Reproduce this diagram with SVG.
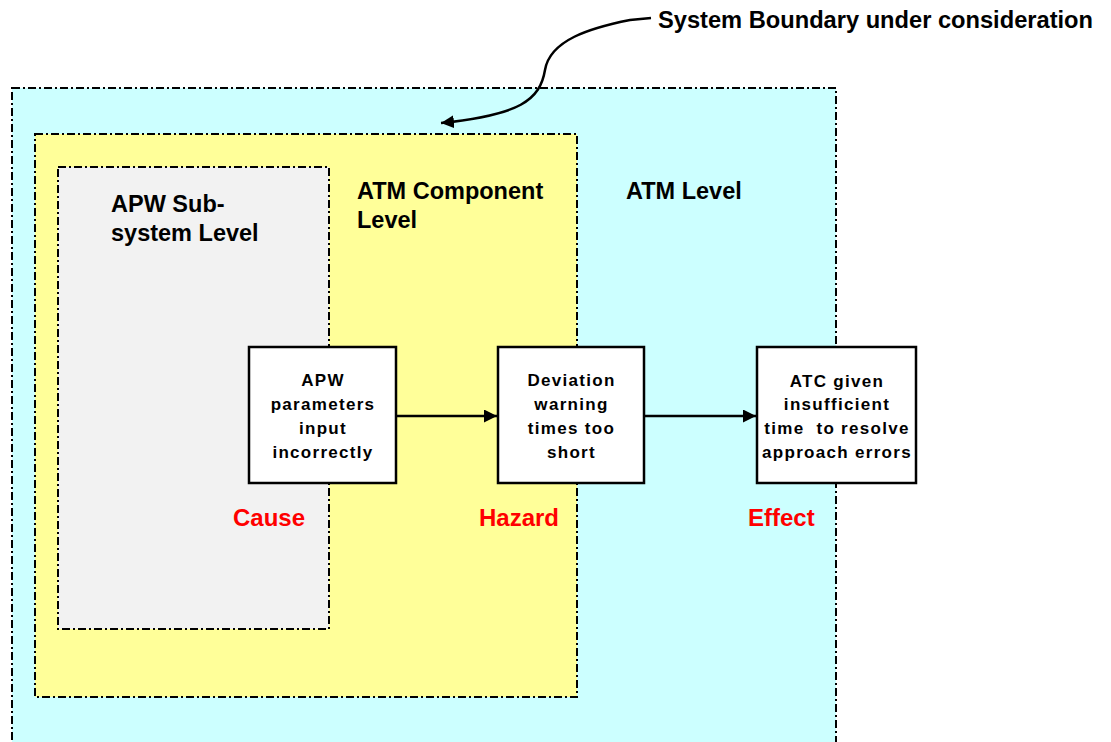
<svg xmlns="http://www.w3.org/2000/svg" width="1111" height="742" viewBox="0 0 1111 742">
<style>
.bound{stroke:#000;stroke-width:2;stroke-dasharray:8,3,2,3}
.box{fill:#fff;stroke:#000;stroke-width:2.5}
.lvl{font-family:"Liberation Sans",Arial,sans-serif;font-weight:bold;font-size:23.5px;fill:#000}
.bt{font-family:"Liberation Sans",Arial,sans-serif;font-weight:bold;font-size:17px;fill:#000;text-anchor:middle;letter-spacing:1.3px}
.red{font-family:"Liberation Sans",Arial,sans-serif;font-weight:bold;font-size:24px;fill:#FF0000}
.con{stroke:#000;stroke-width:2.5;fill:none}
</style>
<defs>
<marker id="ah" markerWidth="13" markerHeight="13" refX="13" refY="6.5" orient="auto" markerUnits="userSpaceOnUse">
<path d="M0,0 L13,6.5 L0,13 Z" fill="#000"/>
</marker>
</defs>
<rect width="1111" height="742" fill="#fff"/>
<g id="atm-level">
<rect class="bound" x="12" y="88" width="824" height="670" fill="#CCFFFF"/>
<text class="lvl" x="626" y="199">ATM Level</text>
</g>
<g id="atm-component-level">
<rect class="bound" x="35" y="134" width="542" height="563" fill="#FFFF99"/>
<text class="lvl" x="357" y="199">ATM Component</text>
<text class="lvl" x="357" y="228">Level</text>
</g>
<g id="apw-subsystem-level">
<rect class="bound" x="58" y="167" width="271" height="462" fill="#F2F2F2"/>
<text class="lvl" x="111" y="212">APW Sub-</text>
<text class="lvl" x="111" y="241">system Level</text>
</g>
<g id="cause">
<rect class="box" x="249" y="347" width="147" height="136"/>
<text class="bt" x="323" y="386">APW</text>
<text class="bt" x="323" y="410">parameters</text>
<text class="bt" x="323" y="434">input</text>
<text class="bt" x="323" y="458">incorrectly</text>
<text class="red" x="233" y="526">Cause</text>
</g>
<g id="hazard">
<rect class="box" x="498" y="347" width="146" height="136"/>
<text class="bt" x="571.5" y="386">Deviation</text>
<text class="bt" x="571.5" y="410">warning</text>
<text class="bt" x="571.5" y="434">times too</text>
<text class="bt" x="571.5" y="458">short</text>
<text class="red" x="479" y="526">Hazard</text>
</g>
<g id="effect">
<rect class="box" x="757" y="347" width="159" height="136"/>
<text class="bt" x="837" y="387">ATC given</text>
<text class="bt" x="837" y="410">insufficient</text>
<text class="bt" x="837" y="434" xml:space="preserve">time  to resolve</text>
<text class="bt" x="837" y="458">approach errors</text>
<text class="red" x="748" y="526">Effect</text>
</g>
<g id="system-boundary-label">
<text class="lvl" x="658" y="28" textLength="435" lengthAdjust="spacingAndGlyphs">System Boundary under consideration</text>
</g>
<g id="connectors">
<line class="con" x1="396" y1="416" x2="497" y2="416" marker-end="url(#ah)"/>
<line class="con" x1="644" y1="416" x2="756" y2="416" marker-end="url(#ah)"/>
<path class="con" d="M651,18 L630,20 C590,28 550,40 545,70 C540,100 520,115 441,123" marker-end="url(#ah)"/>
</g>
</svg>
